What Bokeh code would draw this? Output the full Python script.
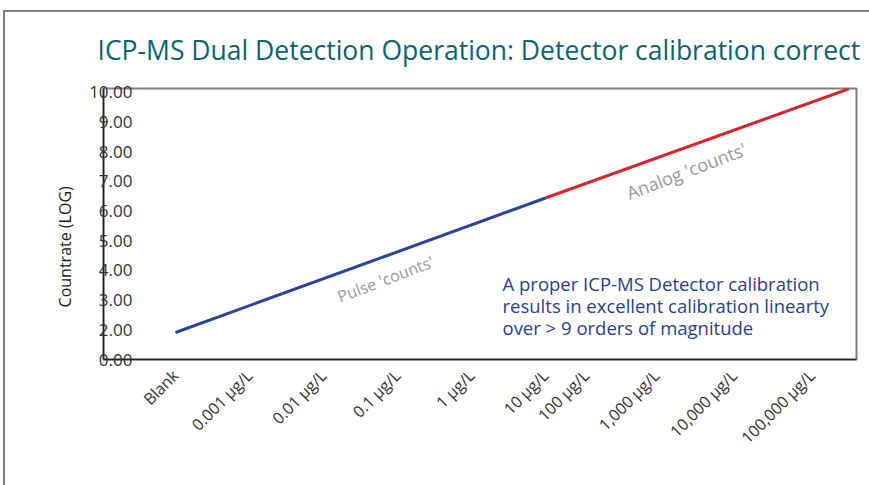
from math import pi
from bokeh.plotting import figure
from bokeh.models import FixedTicker, Label, Legend, LegendItem, Range1d, Title
from bokeh.embed import file_html
from bokeh.resources import INLINE

title_text = "ICP-MS Dual Detection Operation: Detector calibration correct"
y_title = "Countrate (LOG)"
x_tick_labels = ["Blank", "0.001 µg/L", "0.01 µg/L", "0.1 µg/L", "1 µg/L",
                 "10 µg/L", "100 µg/L", "1,000 µg/L", "10,000 µg/L", "100,000 µg/L"]
x_tick_pos = [0, 1, 2, 3, 4, 5, 5.55, 6.5, 7.55, 8.6]
y_tick_labels = ["0.00", "2.00", "3.00", "4.00", "5.00", "6.00", "7.00", "8.00", "9.00", "10.00"]
y_tick_pos = [0, 1, 2, 3, 4, 5, 6, 7, 8, 9]

pulse_x = [0, 5]
pulse_y = [0.91, 5.44]
analog_x = [5, 9.1]
analog_y = [5.44, 9.12]

note_lines = ["A proper ICP-MS Detector calibration",
              "results in excellent calibration linearty",
              "over > 9 orders of magnitude"]

FONT = "Open Sans"
BLUE = "#2b4496"
RED = "#d8262f"
NBSP = "\u00a0"

p = figure(frame_width=753, frame_height=271, output_backend="svg", toolbar_location=None,
           x_range=Range1d(-0.973, 9.203), y_range=Range1d(0, 9.13),
           min_border_left=98, min_border_top=76, min_border_right=13, min_border_bottom=0,
           title=None)
p.styles = {"margin-left": "3px", "margin-top": "10px",
            "border-top": "2px solid #7f7f7f", "border-left": "2px solid #7f7f7f"}
p.grid.visible = False
p.outline_line_color = "#7f7f7f"
p.outline_line_width = 2

# axes
xa = p.xaxis[0]
xa.ticker = FixedTicker(ticks=x_tick_pos)
xa.major_label_overrides = {k: v for k, v in zip(x_tick_pos, x_tick_labels)}
xa.major_label_orientation = pi / 4
xa.major_tick_out = 0
xa.major_tick_in = 0
xa.minor_tick_out = 0
xa.minor_tick_in = 0
xa.axis_line_color = "#222222"
xa.axis_line_width = 1.5
xa.major_label_text_font = FONT
xa.major_label_text_font_size = "16px"
xa.major_label_text_color = "#333333"
xa.major_label_standoff = 13

ya = p.yaxis[0]
ya.ticker = FixedTicker(ticks=y_tick_pos)
ya.major_label_overrides = {k: v for k, v in zip(y_tick_pos, y_tick_labels)}
ya.major_tick_out = 0
ya.major_tick_in = 0
ya.minor_tick_out = 0
ya.minor_tick_in = 0
ya.axis_line_color = "#222222"
ya.axis_line_width = 1.5
ya.major_label_text_font = FONT
ya.major_label_text_font_size = "17px"
ya.major_label_text_color = "#333333"
ya.major_label_standoff = -29
ya.axis_label = y_title + NBSP * 11
ya.axis_label_text_font = FONT
ya.axis_label_text_font_size = "16px"
ya.axis_label_text_font_style = "normal"
ya.axis_label_text_color = "#1a1a1a"
ya.axis_label_standoff = 10

# lines
r_pulse = p.line(pulse_x, pulse_y, line_color=BLUE, line_width=3)
r_analog = p.line(analog_x, analog_y, line_color=RED, line_width=3)

# title
p.add_layout(Title(text=title_text, text_font=FONT, text_font_size="26.5px",
                   text_font_style="normal", text_color="#0b6374", vertical_align="top",
                   align="left", offset=-6, standoff=38), "above")

# annotation
for i, t in enumerate(note_lines):
    p.add_layout(Label(x=399, y=76.5 - 22 * i, x_units="screen", y_units="screen", text=t,
                       text_font=FONT, text_font_size="18.5px", text_color="#2b3f8e",
                       text_align="left", text_baseline="middle"))

p.add_layout(Label(x=282, y=80.5, x_units="screen", y_units="screen", text="Pulse 'counts'",
                   angle=0.367, text_font=FONT, text_font_size="16px", text_color="#9a9a9a",
                   text_align="center", text_baseline="middle"))
p.add_layout(Label(x=585, y=189.5, x_units="screen", y_units="screen", text="Analog  'counts'",
                   angle=0.367, text_font=FONT, text_font_size="18px", text_color="#9a9a9a",
                   text_align="center", text_baseline="middle"))

legend = Legend(items=[LegendItem(label="Pulse Mode", renderers=[r_pulse]),
                       LegendItem(label="Analog Mode" + NBSP * 8, renderers=[r_analog])],
                location="center", orientation="horizontal",
                glyph_width=24, glyph_height=20, label_standoff=2, spacing=58,
                padding=0, margin=0, border_line_color=None, background_fill_alpha=0,
                label_text_font=FONT, label_text_font_size="16px", label_text_color="#1a1a1a")
p.add_layout(legend, "below")

open("out.html", "w").write(file_html(p, INLINE))
